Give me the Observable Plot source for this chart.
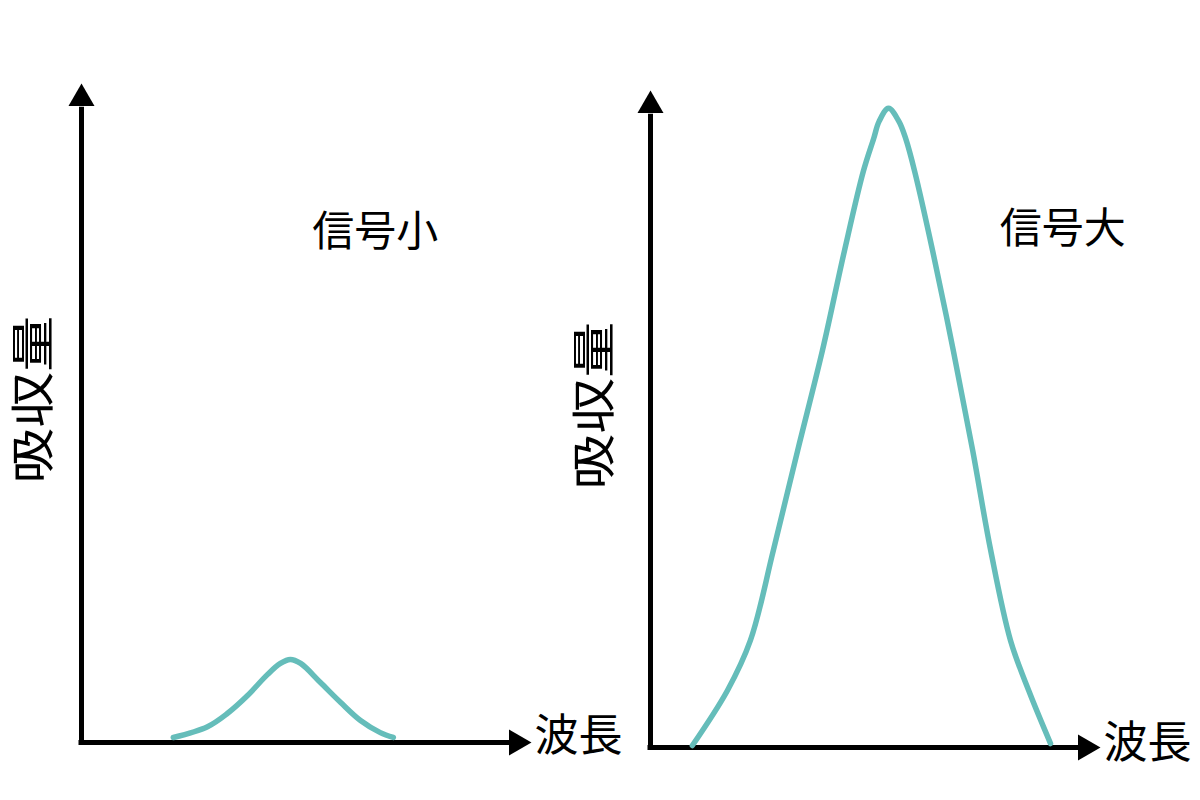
<!DOCTYPE html>
<html><head><meta charset="utf-8">
<script src="https://cdn.jsdelivr.net/npm/d3@7"></script>
<script src="https://cdn.jsdelivr.net/npm/@observablehq/plot@0.6"></script>
<style>
body{margin:0;background:#fff;}
#wrap{position:relative;width:1200px;height:800px;}
#wrap svg{position:absolute;top:0;}
</style></head><body><div id="wrap"></div>
<script>
// ---- data ----
const yLabel = "吸収量";
const xLabel = "波長";
const panelLabels = ["信号小", "信号大"];
const smallX = [20.4, 28.0, 32.4, 36.9, 41.3, 44.2, 46.4, 48.7, 53.1, 57.6, 62.0, 66.4, 69.3];
const smallY = [0.76, 2.4, 4.4, 7.13, 10.3, 12.0, 12.6, 12.0, 9.1, 6.07, 3.34, 1.5, 0.76];
const largeX = [9.3, 17.1, 22.2, 27.3, 32.7, 38.2, 43.1, 47.3, 49.6, 50.8, 52.9, 55.2, 56.7, 58.7, 62.7, 67.3, 71.6, 75.6, 80.0, 84.2, 88.9];
const largeY = [0.3, 8.68, 16.3, 30.0, 45.2, 60.4, 75.6, 87.7, 92.7, 95.3, 97.3, 95.3, 92.7, 87.7, 75.6, 60.4, 45.2, 30.0, 16.3, 8.4, 0.6];
const labelPosX = [65.3, 91.6];
const labelPosY = [77.4, 78.8];

// ---- layout ----
const panels = [
  {xs: smallX, ys: smallY, left: 0, width: 540, mL: 81, mR: 9, mT: 83, mB: 58, yLabDx: -47, xLabDy: -6},
  {xs: largeX, ys: largeY, left: 540, width: 660, mL: 110, mR: 100, mT: 90, mB: 53, yLabDx: -55, xLabDy: -4}
];
const teal = "#65bdba";
const font = "'Noto Sans CJK JP', 'Noto Sans CJK SC', sans-serif";
const wrap = document.getElementById("wrap");

panels.forEach((p, i) => {
  const curve = p.xs.map((x, j) => ({x, y: p.ys[j]}));
  const svg = Plot.plot({
    width: p.width, height: 800,
    marginLeft: p.mL, marginRight: p.mR, marginTop: p.mT, marginBottom: p.mB,
    x: {domain: [0, 100], axis: null},
    y: {domain: [0, 100], axis: null},
    style: {fontFamily: font, overflow: "visible", background: "transparent"},
    marks: [
      Plot.ruleX([{x: 0, y1: 0, y2: 96}], {x: "x", y1: "y1", y2: "y2", stroke: "black", strokeWidth: 5, strokeLinecap: "square"}),
      Plot.ruleY([{y: 0, x1: 0, x2: 96}], {y: "y", x1: "x1", x2: "x2", stroke: "black", strokeWidth: 5, strokeLinecap: "square"}),
      Plot.dot([{x: 0, y: 100}], {x: "x", y: "y", symbol: "triangle", r: 9.65, fill: "black", stroke: "none", dy: 15}),
      Plot.dot([{x: 100, y: 0}], {x: "x", y: "y", symbol: "triangle", r: 9.65, fill: "black", stroke: "none", dx: -15, rotate: 90}),
      Plot.line(curve, {x: "x", y: "y", curve: "catmull-rom", stroke: teal, strokeWidth: 5.5}),
      Plot.text([{x: labelPosX[i], y: labelPosY[i], t: panelLabels[i]}], {x: "x", y: "y", text: "t", fontSize: 42, fill: "black", textAnchor: "middle", lineAnchor: "middle"}),
      Plot.text([{x: 100, y: 0, t: xLabel}], {x: "x", y: "y", text: "t", fontSize: 44, fill: "black", textAnchor: "start", lineAnchor: "middle", dx: 3, dy: p.xLabDy}),
      Plot.text([{x: 0, y: 52, t: yLabel}], {x: "x", y: "y", text: "t", fontSize: 44, fill: "black", textAnchor: "middle", lineAnchor: "middle", rotate: -90, dx: p.yLabDx})
    ]
  });
  svg.style.left = p.left + "px";
  d3.select(svg).selectAll("text").filter(function() { return this.textContent === yLabel; })
    .attr("textLength", 168).attr("lengthAdjust", "spacingAndGlyphs");
  wrap.appendChild(svg);
});
</script>
</body></html>
